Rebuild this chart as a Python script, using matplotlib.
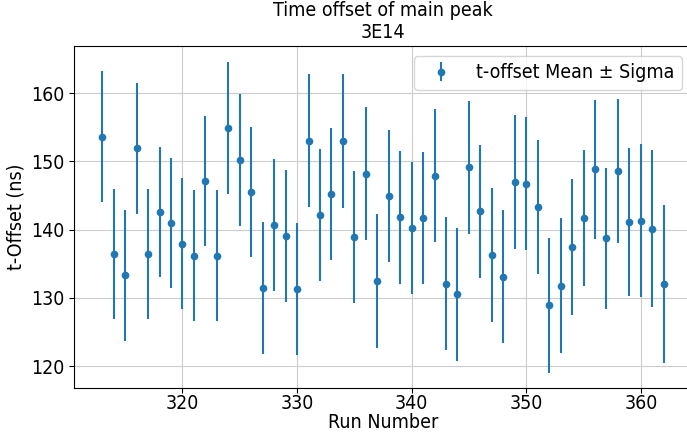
import numpy as np
from matplotlib import pyplot as plt

# run numbers and main-peak time offset per run
runs = np.arange(313, 363)
t_mean = [153.6, 136.4, 133.3, 151.9, 136.4, 142.6, 141.0, 137.9, 136.2, 147.1,
          136.2, 154.9, 150.2, 145.5, 131.4, 140.7, 139.1, 131.3, 153.0, 142.1,
          145.2, 153.0, 138.9, 148.2, 132.5, 144.9, 141.8, 140.2, 141.7, 147.9,
          132.1, 130.5, 149.1, 142.7, 136.3, 133.1, 146.9, 146.7, 143.3, 128.9,
          131.8, 137.5, 141.7, 148.8, 138.7, 148.6, 141.1, 141.3, 140.1, 132.1]
t_sigma = [9.59, 9.56, 9.56, 9.59, 9.54, 9.54, 9.52, 9.59, 9.61, 9.56,
           9.61, 9.69, 9.64, 9.59, 9.64, 9.64, 9.64, 9.73, 9.73, 9.64,
           9.66, 9.81, 9.71, 9.71, 9.78, 9.66, 9.71, 9.66, 9.66, 9.71,
           9.69, 9.78, 9.71, 9.73, 9.81, 9.78, 9.81, 9.76, 9.76, 9.90,
           9.95, 9.95, 10.02, 10.12, 10.27, 10.51, 10.80, 11.16, 11.50, 11.57]

plt.rcParams['font.size'] = 14
plt.rcParams['font.stretch'] = 'condensed'

fig, ax = plt.subplots(figsize=(6.87, 4.33), dpi=100)
fig.subplots_adjust(left=0.108, right=1.007, bottom=0.104, top=0.894)

ax.errorbar(runs, t_mean, yerr=t_sigma, fmt='o', markersize=4.5,
            label='t-offset Mean ± Sigma')
ax.set_ylim(116.8, 166.9)
ax.set_xticks([320, 330, 340, 350, 360])
ax.set_yticks([120, 130, 140, 150, 160])
ax.tick_params(axis='x', pad=1)
ax.grid(True, color='#cccccc')
ax.set_title('Time offset of main peak\n3E14', fontsize=14)
ax.set_xlabel('Run Number', labelpad=0)
ax.set_ylabel('t-Offset (ns)')
ax.legend(loc='upper right')

fig.savefig('out.png')
